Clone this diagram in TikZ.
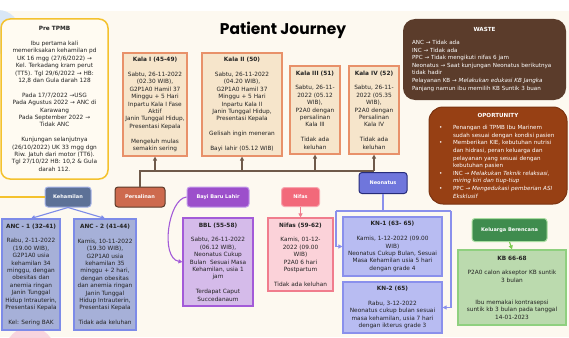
\documentclass[tikz,border=0pt]{standalone}
\usepackage{fontspec}
\setmainfont{DejaVu Sans}
\newfontfamily\titlefont{Poppins}
\usetikzlibrary{arrows.meta}

\definecolor{bgcream}{HTML}{FDF9F0}
\definecolor{blobblue}{HTML}{D9E7F6}
\definecolor{blobpink}{HTML}{F8D4DE}
\definecolor{preborder}{HTML}{F4C22E}
\definecolor{prefill}{HTML}{FFFBF2}
\definecolor{kalafill}{HTML}{F6E5CB}
\definecolor{kalaborder}{HTML}{E8916A}
\definecolor{trunkbrown}{HTML}{6F5A4A}
\definecolor{wastefill}{HTML}{5B3C2B}
\definecolor{oportfill}{HTML}{974014}
\definecolor{oportborder}{HTML}{7B3310}
\definecolor{kehfill}{HTML}{5D7197}
\definecolor{kehborder}{HTML}{A6B4E8}
\definecolor{ancfill}{HTML}{A6B0D8}
\definecolor{ancborder}{HTML}{7D8BE8}
\definecolor{persfill}{HTML}{CD6A4E}
\definecolor{persborder}{HTML}{5B3A29}
\definecolor{bayifill}{HTML}{9C4FCB}
\definecolor{bayiborder}{HTML}{C39BEA}
\definecolor{bblfill}{HTML}{D5BBEA}
\definecolor{bblborder}{HTML}{A35BD8}
\definecolor{nifasfill}{HTML}{F2697A}
\definecolor{nifasborder}{HTML}{F8A5AF}
\definecolor{nifasboxfill}{HTML}{FBD2D9}
\definecolor{nifasboxborder}{HTML}{F07D8D}
\definecolor{neofill}{HTML}{6F76DC}
\definecolor{neoborder}{HTML}{262C7A}
\definecolor{knfill}{HTML}{B8BCF2}
\definecolor{knborder}{HTML}{8A90EC}
\definecolor{kbfill}{HTML}{3F8C4E}
\definecolor{kbborder}{HTML}{A8DDA0}
\definecolor{kbboxfill}{HTML}{BBDAAE}
\definecolor{kbboxborder}{HTML}{8FD07F}
\definecolor{kbarrow}{HTML}{7CCB4F}
\definecolor{inktext}{HTML}{232323}

\newcommand\cardfont{\fontsize{5.8}{7.4}\selectfont}
\newcommand\darkfont{\fontsize{5.6}{7.6}\selectfont}
\newcommand\tagfont{\fontsize{5}{6}\selectfont\bfseries}

\tikzset{
  card/.style={draw, line width=1.1pt, align=center, inner sep=2pt, text=inktext, font=\cardfont},
  tag/.style={draw, rounded corners=3pt, line width=1pt, align=center, text=white, font=\tagfont},
  tip/.style={-{Triangle[length=4pt,width=4pt]}},
  trunk/.style={draw=trunkbrown, line width=1.3pt},
}

\begin{document}
\begin{tikzpicture}[x=1pt,y=-1pt]
  \useasboundingbox (0,0) rectangle (569,337);
  \fill[white] (0,0) rectangle (569,11);
  \fill[bgcream] (0,11) rectangle (569,337);
  \fill[blobblue] (-2,32) circle[radius=22pt];
  \fill[blobpink] (30,352) circle[radius=25pt];

  \node (title) at (283,30) {\titlefont\fontsize{15.5}{18}\selectfont\bfseries Patient Journey};

  % pre TPMB
  \node[card, rounded corners=9pt, draw=preborder, fill=prefill, line width=1.5pt,
        minimum width=107pt, minimum height=160pt] (pre) at (54.5,99) {\textbf{Pre TPMB}\\[7.4pt]
    Ibu pertama kali\\ memeriksakan kehamilan pd\\ UK 16 mgg (27/6/2022) →\\ Kel. Terkadang kram perut\\
    (TT5). Tgl 29/6/2022 → HB:\\ 12,8 dan Gula darah 128\\[7.4pt]
    Pada 17/7/2022 →USG\\ Pada Agustus 2022 → ANC di\\ Karawang\\ Pada September 2022 →\\ Tidak ANC\\[7.4pt]
    Kunjungan selanjutnya\\ (26/10/2022) UK 33 mgg dgn\\ Riw. Jatuh dari motor (TT6).\\
    Tgl 27/10/22 HB: 10,2 \& Gula\\ darah 112.};

  % kala boxes
  \node[card, draw=kalaborder, fill=kalafill, minimum width=64pt, minimum height=103pt] (kala1) at (155,104.5)
    {\textbf{Kala I (45-49)}\\[7.4pt] Sabtu, 26-11-2022\\ (02.30 WIB),\\ G2P1A0 Hamil 37\\ Minggu + 5 Hari\\
     Inpartu Kala I Fase\\ Aktif\\ Janin Tunggal Hidup,\\ Presentasi Kepala\\[7.4pt] Mengeluh mulas\\ semakin sering};
  \node[card, draw=kalaborder, fill=kalafill, minimum width=80pt, minimum height=103pt] (kala2) at (242,104.5)
    {\textbf{Kala II (50)}\\[7.4pt] Sabtu, 26-11-2022\\ (04.20 WIB),\\ G2P1A0 Hamil 37\\ Minggu + 5 Hari\\
     Inpartu Kala II\\ Janin Tunggal Hidup,\\ Presentasi Kepala\\[7.4pt] Gelisah ingin meneran\\[7.4pt] Bayi lahir (05.12 WIB)};
  \node[card, draw=kalaborder, fill=kalafill, minimum width=50pt, minimum height=88pt] (kala3) at (315,110)
    {\textbf{Kala III (51)}\\[7.4pt] Sabtu, 26-11-\\ 2022 (05.12\\ WIB),\\ P2A0 dengan\\ persalinan\\ Kala III\\[7.4pt] Tidak ada\\ keluhan};
  \node[card, draw=kalaborder, fill=kalafill, minimum width=50pt, minimum height=88pt] (kala4) at (374,110)
    {\textbf{Kala IV (52)}\\[7.4pt] Sabtu, 26-11-\\ 2022 (05.35\\ WIB),\\ P2A0 dengan\\ Persalinan\\ Kala IV\\[7.4pt] Tidak ada\\ keluhan};

  % waste and oportunity
  \node[fill=wastefill, rounded corners=12pt, text=white, font=\darkfont, align=left,
        text width=145pt, inner xsep=9pt, minimum height=81pt] (waste) at (484.5,59.5)
    {{\centering\textbf{WASTE}\par}\vspace{5pt}
     ANC → Tidak ada\\ INC → Tidak ada\\ PPC → Tidak mengikuti nifas 6 jam\\
     Neonatus → Saat kunjungan Neonatus berikutnya\\ tidak hadir\\
     Pelayanan KB → \textit{Melakukan edukasi KB Jangka}\\ Panjang namun ibu memilih KB Suntik 3 buan};
  \node[fill=oportfill, draw=oportborder, line width=1pt, rounded corners=14pt, text=white, font=\darkfont,
        align=left, text width=122pt, inner xsep=8pt, minimum height=97pt] (oport) at (498,155.5)
    {{\centering\textbf{OPORTUNITY}\par}\vspace{5pt}
     \makebox[16pt][l]{\hspace{2pt}\textbullet}Penangan di TPMB Ibu Marinem\\
     \hspace*{16pt}sudah sesuai dengan kondisi pasien\\
     \makebox[16pt][l]{\hspace{2pt}\textbullet}Memberikan KIE, kebutuhan nutrisi\\
     \hspace*{16pt}dan hidrasi, peran keluarga dan\\
     \hspace*{16pt}pelayanan yang sesuai dengan\\
     \hspace*{16pt}kebutuhan pasien\\
     \makebox[16pt][l]{\hspace{2pt}\textbullet}INC → \textit{Melakukan Teknik relaksasi,}\\
     \hspace*{16pt}\textit{miring kiri dan tiup-tiup}\\
     \makebox[16pt][l]{\hspace{2pt}\textbullet}PPC → \textit{Mengedukasi pemberian ASI}\\
     \hspace*{16pt}\textit{Eksklusif}};

  % stage labels
  \node[tag, fill=kehfill, draw=kehborder, minimum width=46pt, minimum height=20pt] (kehamilan) at (68,197) {Kehamilan};
  \node[tag, fill=persfill, draw=persborder, minimum width=50pt, minimum height=20pt] (persalinan) at (140,197) {Persalinan};
  \node[tag, fill=bayifill, draw=bayiborder, minimum width=62pt, minimum height=20pt] (bayi) at (218,197) {Bayi Baru Lahir};
  \node[tag, fill=nifasfill, draw=nifasborder, minimum width=38pt, minimum height=19pt] (nifas) at (300.5,197) {Nifas};
  \node[tag, fill=neofill, draw=neoborder, minimum width=48pt, minimum height=21pt] (neonatus) at (383,183) {Neonatus};
  \node[tag, fill=kbfill, draw=kbborder, minimum width=75pt, minimum height=23pt] (kb) at (509.5,230) {Keluarga Berencana};

  % visit boxes
  \node[card, draw=ancborder, fill=ancfill, minimum width=58pt, minimum height=111pt] (anc1) at (31,274.5)
    {\textbf{ANC - 1 (32-41)}\\[7.4pt] Rabu, 2-11-2022\\ (19.00 WIB),\\ G2P1A0 usia\\ kehamilan 34\\ minggu, dengan\\
     obesitas dan\\ anemia ringan\\ Janin Tunggal\\ Hidup Intrauterin,\\ Presentasi Kepala\\[7.4pt] Kel: Sering BAK};
  \node[card, draw=ancborder, fill=ancfill, minimum width=62pt, minimum height=111pt] (anc2) at (105,274.5)
    {\textbf{ANC - 2 (41-44)}\\[7.4pt] Kamis, 10-11-2022\\ (19.30 WIB),\\ G2P1A0 usia\\ kehamilan 35\\ minggu + 2 hari,\\
     dengan obesitas\\ dan anemia ringan\\ Janin Tunggal\\ Hidup Intrauterin,\\ Presentasi Kepala\\[7.4pt] Tidak ada keluhan};
  \node[card, draw=bblborder, fill=bblfill, minimum width=70pt, minimum height=88pt] (bbl) at (218,262)
    {\textbf{BBL (55-58)}\\[7.4pt] Sabtu, 26-11-2022\\ (06.12 WIB),\\ Neonatus Cukup\\ Bulan\ \ Sesuai Masa\\
     Kehamilan, usia 1\\ jam\\[7.4pt] Terdapat Caput\\ Succedanaum};
  \node[card, draw=nifasboxborder, fill=nifasboxfill, minimum width=65pt, minimum height=73pt] (nifasbox) at (300.5,254.5)
    {\textbf{Nifas (59-62)}\\[7.4pt] Kamis, 01-12-\\ 2022 (09.00\\ WIB)\\ P2A0 6 hari\\ Postpartum\\[7.4pt] Tidak ada keluhan};
  \node[card, draw=knborder, fill=knfill, minimum width=99pt, minimum height=59pt] (kn1) at (392.5,246.5)
    {\textbf{KN-1 (63- 65)}\\[7.4pt] Kamis, 1-12-2022 (09.00\\ WIB)\\ Neonatus Cukup Bulan, Sesuai\\
     Masa Kehamilan usia 5 hari\\ dengan grade 4};
  \node[card, draw=knborder, fill=knfill, minimum width=99pt, minimum height=51pt] (kn2) at (392.5,307.5)
    {\textbf{KN-2 (65)}\\[7.4pt] Rabu, 3-12-2022\\ Neonatus cukup bulan sesuai\\ masa kehamilan, usia 7 hari\\
     dengan ikterus grade 3};
  \node[card, draw=kbboxborder, fill=kbboxfill, minimum width=108pt, minimum height=75pt] (kbbox) at (512,287.5)
    {\textbf{KB 66-68}\\[7.4pt] P2A0 calon akseptor KB suntik\\ 3 bulan\\[14.8pt] Ibu memakai kontrasepsi\\
     suntik kb 3 bulan pada tanggal\\ 14-01-2023};

  % connectors
  \coordinate (bus) at (0,171);
  \draw[trunk] (persalinan.north) -- (persalinan.north |- bus) -- (kala4.south |- bus);
  \foreach \k in {kala1,kala2,kala3,kala4}
    \draw[trunk, tip] (\k.south |- bus) -- (\k.south);

  \coordinate (preleft) at (0,197);
  \draw[preborder, line width=1.2pt] (preleft) -- (kehamilan.west);
  \draw[ancborder, line width=1.1pt, tip] (kehamilan.south) -- (anc1.north);
  \draw[ancborder, line width=1.1pt, tip] (kehamilan.south) -- (anc2.north);

  \draw[bblborder, line width=1.1pt, tip] (bayi.west) .. controls (168,199) and (160,258) .. (bbl.west);
  \draw[nifasboxborder, line width=1.1pt, tip] (nifas.south) -- (nifasbox.north);

  \coordinate (nleft) at (336,211);
  \coordinate (nright) at (451,211);
  \draw[knborder, line width=1.1pt] (neonatus.south) -- (neonatus.south |- nleft);
  \draw[knborder, line width=1.1pt] (nleft) -- (nright);
  \draw[knborder, line width=1.1pt, tip] (nleft) |- (kn1.west);
  \draw[knborder, line width=1.1pt, tip] (nright) |- (kn2.east);

  \draw[kbarrow, line width=1.1pt, tip] (kb.south) -- (kbbox.north);
\end{tikzpicture}
\end{document}
